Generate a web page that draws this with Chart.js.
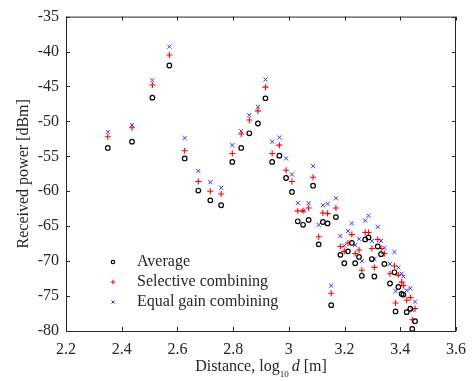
<!DOCTYPE html>
<html>
<head>
<meta charset="utf-8">
<script src="https://cdn.jsdelivr.net/npm/chart.js@4"></script>
<style>
  body { margin: 0; background: #fff; }
  #wrap { width: 475px; height: 381px; }
</style>
</head>
<body>
<div id="wrap"><canvas id="myScatter"></canvas></div>
<script>
// log10 of distance for each measurement point
const logDist = [2.350, 2.437, 2.510, 2.571, 2.626, 2.675, 2.718, 2.757, 2.797, 2.829,
    2.858, 2.889, 2.916, 2.940, 2.966, 2.990, 3.011, 3.032, 3.051, 3.071,
    3.087, 3.107, 3.122, 3.139, 3.152, 3.169, 3.185, 3.199, 3.212, 3.226,
    3.238, 3.252, 3.262, 3.274, 3.286, 3.298, 3.307, 3.319, 3.331, 3.343,
    3.363, 3.379, 3.383, 3.393, 3.405, 3.411, 3.423, 3.436, 3.443, 3.453];
const average = [-53.8, -52.9, -46.6, -42.0, -55.3, -59.9, -61.3, -62.0, -55.8, -53.8,
    -51.7, -50.3, -46.7, -55.8, -54.9, -58.1, -60.1, -64.3, -64.8, -64.1,
    -59.2, -67.6, -64.4, -64.6, -76.3, -63.7, -69.1, -70.3, -68.6, -67.4,
    -70.3, -69.4, -72.1, -66.9, -66.6, -69.7, -72.2, -67.9, -69.0, -70.4,
    -73.2, -71.6, -77.2, -73.7, -74.7, -74.8, -77.3, -76.8, -79.7, -78.6];
const selective = [-52.2, -50.9, -44.8, -40.5, -54.2, -58.6, -60.0, -60.4, -54.6, -51.8,
    -49.8, -48.5, -45.1, -54.6, -53.4, -57.0, -58.6, -62.8, -62.8, -62.4,
    -58.0, -66.5, -63.1, -63.2, -74.6, -62.4, -67.9, -68.6, -67.4, -66.2,
    -68.9, -68.4, -71.3, -65.9, -65.9, -68.2, -70.9, -66.9, -68.2, -68.9,
    -71.8, -70.7, -76.0, -72.0, -73.0, -73.5, -75.6, -75.2, -78.4, -76.8];
const equalGain = [-51.5, -50.5, -44.1, -39.3, -52.4, -57.1, -58.7, -59.5, -53.4, -51.4,
    -49.1, -47.9, -44.0, -52.9, -52.3, -55.3, -57.6, -61.7, -62.8, -61.7,
    -56.4, -64.8, -62.0, -61.8, -73.5, -61.0, -66.4, -67.8, -65.7, -64.6,
    -67.7, -66.8, -70.0, -64.2, -63.5, -67.1, -69.7, -65.1, -67.1, -68.1,
    -70.4, -68.7, -74.3, -70.9, -71.8, -72.2, -74.2, -73.9, -77.0, -75.8];
const xTicks = [2.2, 2.4, 2.6, 2.8, 3, 3.2, 3.4, 3.6];
const yTicks = [-80, -75, -70, -65, -60, -55, -50, -45, -40, -35];

const serif = '"Liberation Serif", "Times New Roman", serif';
const axisColor = '#262626';

function toPoints(ys) {
    return logDist.map((x, i) => ({ x: x, y: ys[i] }));
}

const seriesStyle = [
    { label: 'Average', data: average, color: '#000000', style: 'circle', radius: 2.3, width: 1.2 },
    { label: 'Selective combining', data: selective, color: '#ff0000', style: 'cross', radius: 3, width: 1.1 },
    { label: 'Equal gain combining', data: equalGain, color: '#3333ff', style: 'crossRot', radius: 2.9, width: 1 }
];

// box, inward ticks, legend and x title drawn on top
const framePlugin = {
    id: 'frame',
    afterDraw(chart) {
        const c = chart.ctx;
        const a = chart.chartArea;
        const xs = chart.scales.x, ys = chart.scales.y;
        c.save();
        c.strokeStyle = axisColor;
        c.lineWidth = 1;
        c.strokeRect(a.left + 0.5, a.top + 0.5, a.right - a.left - 1, a.bottom - a.top);
        const tl = 4;
        c.beginPath();
        xTicks.forEach(v => {
            const px = Math.round(xs.getPixelForValue(v)) + 0.5;
            c.moveTo(px, a.bottom); c.lineTo(px, a.bottom - tl);
            c.moveTo(px, a.top); c.lineTo(px, a.top + tl);
        });
        yTicks.forEach(v => {
            const py = Math.round(ys.getPixelForValue(v)) + 0.5;
            c.moveTo(a.left, py); c.lineTo(a.left + tl, py);
            c.moveTo(a.right, py); c.lineTo(a.right - tl, py);
        });
        c.stroke();

        // legend inside the plot
        c.textBaseline = 'middle';
        c.font = '16px ' + serif;
        seriesStyle.forEach((s, i) => {
            const ly = 262 + i * 20;
            c.strokeStyle = s.color;
            c.fillStyle = 'rgba(0,0,0,0)';
            c.lineWidth = s.width;
            Chart.helpers.drawPoint(c, { pointStyle: s.style, radius: s.radius * 0.75, rotation: 0, borderWidth: s.width }, 113, ly);
            c.fillStyle = axisColor;
            c.fillText(s.label, 137, ly);
        });

        // x axis title with subscript
        const cx = (a.left + a.right) / 2;
        const ty = 367;
        const big = '16px ' + serif, small = '9px ' + serif, ital = 'italic 16px ' + serif;
        c.font = big; const w1 = c.measureText('Distance, log').width;
        c.font = small; const w2 = c.measureText('10').width;
        c.font = ital; const w3 = c.measureText('d').width;
        c.font = big; const w4 = c.measureText(' [m]').width;
        let x0 = cx - (w1 + w2 + 3 + w3 + w4) / 2;
        c.fillStyle = axisColor;
        c.textAlign = 'left';
        c.font = big; c.fillText('Distance, log', x0, ty); x0 += w1;
        c.font = small; c.fillText('10', x0, ty + 8); x0 += w2 + 3;
        c.font = ital; c.fillText('d', x0, ty); x0 += w3;
        c.font = big; c.fillText(' [m]', x0, ty);
        c.restore();
    }
};

document.addEventListener("DOMContentLoaded", function () {
    const ctx = document.getElementById('myScatter').getContext('2d');
    new Chart(ctx, {
        type: 'scatter',
        data: {
            datasets: seriesStyle.map(s => ({
                label: s.label,
                data: toPoints(s.data),
                pointStyle: s.style,
                pointRadius: s.radius,
                pointHoverRadius: s.radius,
                borderColor: s.color,
                backgroundColor: 'rgba(0,0,0,0)',
                pointBorderWidth: s.width
            }))
        },
        options: {
            responsive: true,
            maintainAspectRatio: false,
            animation: false,
            layout: { padding: { top: 15, right: 17, left: 14, bottom: 0 } },
            plugins: {
                legend: { display: false },
                tooltip: { enabled: false }
            },
            scales: {
                x: {
                    type: 'linear',
                    min: 2.2,
                    max: 3.6,
                    afterBuildTicks: s => { s.ticks = xTicks.map(v => ({ value: v })); },
                    afterFit: s => { s.height = 50; },
                    grid: { display: false, drawTicks: false },
                    border: { display: false },
                    ticks: {
                        padding: 9,
                        color: axisColor,
                        font: { family: serif, size: 16 },
                        callback: v => String(v)
                    }
                },
                y: {
                    type: 'linear',
                    min: -80,
                    max: -35,
                    afterBuildTicks: s => { s.ticks = yTicks.map(v => ({ value: v })); },
                    afterFit: s => { s.width = 52; },
                    grid: { display: false, drawTicks: false },
                    border: { display: false },
                    title: {
                        display: true,
                        text: 'Received power [dBm]',
                        color: axisColor,
                        font: { family: serif, size: 16 },
                        padding: { top: 0, bottom: 4 }
                    },
                    ticks: {
                        padding: 7,
                        color: axisColor,
                        font: { family: serif, size: 16 },
                        callback: v => String(v)
                    }
                }
            }
        },
        plugins: [framePlugin]
    });
});
</script>
</body>
</html>
